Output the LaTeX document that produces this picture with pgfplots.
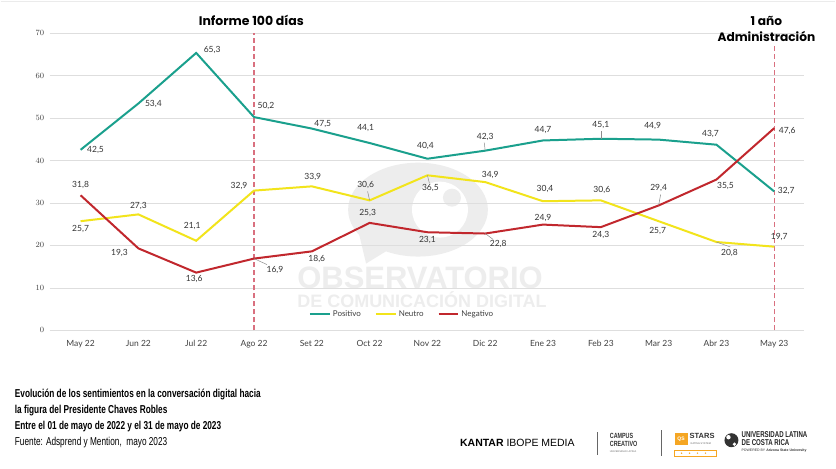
\documentclass[border=0pt]{standalone}
\usepackage{pgfplots}
\pgfplotsset{compat=1.18}
\usepackage{pgfplotstable}
\usepackage{fontspec}
\setmainfont{Lato}
\newfontfamily\pop{Poppins}
\newfontfamily\cond[FakeStretch=0.72]{Liberation Sans}
\newfontfamily\arial{Liberation Sans}
\definecolor{cpos}{HTML}{1AA08D}
\definecolor{cneu}{HTML}{F2E41B}
\definecolor{cneg}{HTML}{C1272D}
\definecolor{dashc}{HTML}{D9707F}
\definecolor{wm}{HTML}{EDEDED}
\definecolor{lab}{HTML}{333333}
\definecolor{qs}{HTML}{F5A623}

\pgfplotstableread{
x y lab dx dy
0 42.5 42,5 15 0
1 53.4 53,4 15 -1
2 65.3 65,3 16 3
3 50.2 50,2 12 11
4 47.5 47,5 11 5
5 44.1 44,1 -4 15
6 40.4 40,4 -2 13
7 42.3 42,3 0 14
8 44.7 44,7 0 10
9 45.1 45,1 0 14
10 44.9 44,9 -6 14
11 43.7 43,7 -6 11
12 32.7 32,7 12 0
}\tpos

\pgfplotstableread{
x y lab dx dy
0 25.7 25,7 0 -8
1 27.3 27,3 0 8
2 21.1 21,1 -4 15
3 32.9 32,9 -15 5
4 33.9 33,9 1 9
5 30.6 30,6 -4 15
6 36.5 36,5 3 -13
7 34.9 34,9 5 7
8 30.4 30,4 2 12
9 30.6 30,6 1 10
10 25.7 25,7 -1 -10
11 20.8 20,8 13 -11
12 19.7 19,7 5 10
}\tneu

\pgfplotstableread{
x y lab dx dy
0 31.8 31,8 0 10
1 19.3 19,3 -19 -5
2 13.6 13,6 -2 -6
3 16.9 16,9 21 -11
4 18.6 18,6 5 -8
5 25.3 25,3 -2 10
6 23.1 23,1 0 -8
7 22.8 22,8 13 -11
8 24.9 24,9 0 7
9 24.3 24,3 0 -8
10 29.4 29,4 0 18
11 35.5 35,5 9 -6
12 47.6 47,6 13 -3
}\tneg

\begin{document}
\begin{tikzpicture}
\fill[white] (0pt,0pt) rectangle (836pt,469pt);
\begin{scope}[x=1pt,y=-1pt,yshift=469pt]
  \draw[black!8,line width=1.5pt] (0,1.5) -- (836,1.5);
  % watermark
  \fill[wm] (418,210) ellipse [x radius=70, y radius=47];
  \fill[wm] (356,222) -- (392,248) -- (366,264) -- cycle;
  \fill[white] (440,210) circle [radius=28];
  \fill[wm] (452,198) circle [radius=9];
  \node[anchor=base west,inner sep=0pt,text=wm,font={\arial\bfseries\fontsize{31}{31}\selectfont}] at (297,289) {OBSERVATORIO};
  \node[anchor=base west,inner sep=0pt,text=wm,font={\arial\bfseries\fontsize{18}{18}\selectfont}] at (297,308) {DE COMUNICACIÓN DIGITAL};
\end{scope}

\begin{axis}[
  at={(49pt,138pt)}, anchor=south west,
  scale only axis, width=756pt, height=298pt,
  xmin=-0.535, xmax=12.52, ymin=0, ymax=70,
  ytick={0,10,...,70},
  xtick={0,...,12},
  xticklabels={May 22,Jun 22,Jul 22,Ago 22,Set 22,Oct 22,Nov 22,Dic 22,Ene 23,Feb 23,Mar 23,Abr 23,May 23},
  ymajorgrids, grid style={black!13, line width=0.8pt},
  axis line style={draw=none}, tick style={draw=none},
  tick label style={font=\fontsize{8.5}{10}\selectfont, text=black!75},
  yticklabel style={xshift=-2pt},
  xticklabel style={yshift=-6pt},
  clip=false,
  legend style={at={(0.467,0.055)}, anchor=center, legend columns=3, draw=none, fill=none,
    font=\fontsize{8}{9}\selectfont, text=black!75,
    /tikz/every even column/.append style={column sep=12pt}},
  legend image code/.code={\draw[#1, line width=2pt] (0pt,0pt) -- (20pt,0pt);},
  nodes near coords,
  point meta=explicit symbolic,
  visualization depends on={\thisrow{dx}\as\lbx},
  visualization depends on={\thisrow{dy}\as\lby},
  nodes near coords style={anchor=center, xshift=\lbx pt, yshift=\lby pt,
    font=\fontsize{8.5}{10}\selectfont, text=lab, inner sep=0pt},
]
\draw[dashc, line width=1.2pt, dash pattern=on 5pt off 3pt] (axis cs:3,0) -- (axis cs:3,70);
\draw[dashc, line width=1.2pt, dash pattern=on 5pt off 3pt] (axis cs:12,0) -- (axis cs:12,67.6);
\addplot[cpos, line width=2pt, no marks] table[x=x,y=y,meta=lab] {\tpos};
\addlegendentry{Positivo}
\addplot[cneu, line width=2pt, no marks] table[x=x,y=y,meta=lab] {\tneu};
\addlegendentry{Neutro}
\addplot[cneg, line width=2pt, no marks] table[x=x,y=y,meta=lab] {\tneg};
\addlegendentry{Negativo}
% leader lines
\draw[black!45, line width=0.5pt] (axis cs:3,16.9) -- ++(13pt,-6pt);
\draw[black!45, line width=0.5pt] (axis cs:5,30.6) -- ++(-2pt,9pt);
\draw[black!45, line width=0.5pt] (axis cs:6,36.5) -- ++(2pt,-8pt);
\draw[black!45, line width=0.5pt] (axis cs:7,42.3) -- ++(-1pt,8pt);
\draw[black!45, line width=0.5pt] (axis cs:7,22.8) -- ++(8pt,-6pt);
\draw[black!45, line width=0.5pt] (axis cs:9,45.1) -- ++(0pt,8pt);
\draw[black!45, line width=0.5pt] (axis cs:10,29.4) -- ++(2pt,11pt);
\draw[black!45, line width=0.5pt] (axis cs:11,20.8) -- ++(14pt,-5pt);
\end{axis}

\begin{scope}[x=1pt,y=-1pt,yshift=469pt]
  \node[font={\pop\bfseries\fontsize{12.5}{14}\selectfont}] at (251,20) {Informe 100 días};
  \node[font={\pop\bfseries\fontsize{12.2}{14}\selectfont}] at (767,21) {1 año};
  \node[font={\pop\bfseries\fontsize{12.2}{14}\selectfont}] at (767,37) {Administración};
  % bottom text
  \node[anchor=base west,inner sep=0pt,font={\cond\bfseries\fontsize{11.5}{13}\selectfont}] at (14,398) {Evolución de los sentimientos en la conversación digital hacia};
  \node[anchor=base west,inner sep=0pt,font={\cond\bfseries\fontsize{11.5}{13}\selectfont}] at (14,414) {la figura del Presidente Chaves Robles};
  \node[anchor=base west,inner sep=0pt,font={\cond\bfseries\fontsize{11.5}{13}\selectfont}] at (14,430) {Entre el 01 de mayo de 2022 y el 31 de mayo de 2023};
  \node[anchor=base west,inner sep=0pt,font={\cond\fontsize{11.5}{13}\selectfont}] at (14,446) {Fuente: Adsprend y Mention,\ \ mayo 2023};
  % logos
  \node[anchor=west,inner sep=0pt,font={\arial\fontsize{10.5}{12}\selectfont}] at (460,444) {\textbf{KANTAR} IBOPE MEDIA};
  \draw[black!60,line width=0.6pt] (598,433) -- (598,456);
  \draw[black!60,line width=0.6pt] (662,431) -- (662,457);
  \node[anchor=west,inner sep=0pt,font={\cond\bfseries\fontsize{7.5}{7.5}\selectfont},text=black!80] at (610,437) {CAMPUS};
  \node[anchor=west,inner sep=0pt,font={\cond\bfseries\fontsize{7.5}{7.5}\selectfont},text=black!80] at (610,445) {CREATIVO};
  \node[anchor=west,inner sep=0pt,font={\arial\fontsize{2.5}{3}\selectfont},text=black!60] at (610,452) {UNIVERSIDAD LATINA};
  \fill[qs] (675,434) rectangle (688,446);
  \node[inner sep=0pt,font={\arial\bfseries\fontsize{5}{5}\selectfont},text=white] at (681.5,440) {QS};
  \node[anchor=west,inner sep=0pt,font={\arial\bfseries\fontsize{7.5}{8}\selectfont},text=black!80] at (690,437) {STARS};
  \node[anchor=west,inner sep=0pt,font={\arial\fontsize{2.5}{3}\selectfont},text=black!60] at (691,444.5) {RATING SYSTEM};
  \draw[qs,line width=0.5pt] (675,451) rectangle (717,457);
  \foreach \s in {682,690,698,706}{\fill[qs] (\s,454) circle [radius=0.8];}
  \fill[black!80] (732,441) circle [radius=7];
  \fill[white] (729,438) circle [radius=2.2];
  \fill[white] (735,445) circle [radius=1.8];
  \node[anchor=west,inner sep=0pt,font={\cond\bfseries\fontsize{8.5}{8.5}\selectfont},text=black!85] at (742,435.5) {UNIVERSIDAD LATINA};
  \node[anchor=west,inner sep=0pt,font={\cond\bfseries\fontsize{8.5}{8.5}\selectfont},text=black!85] at (742,443.5) {DE COSTA RICA};
  \node[anchor=west,inner sep=0pt,font={\arial\fontsize{3.5}{4}\selectfont},text=black!80] at (742,451) {POWERED BY \textbf{Arizona State University}};
\end{scope}
\end{tikzpicture}
\end{document}
